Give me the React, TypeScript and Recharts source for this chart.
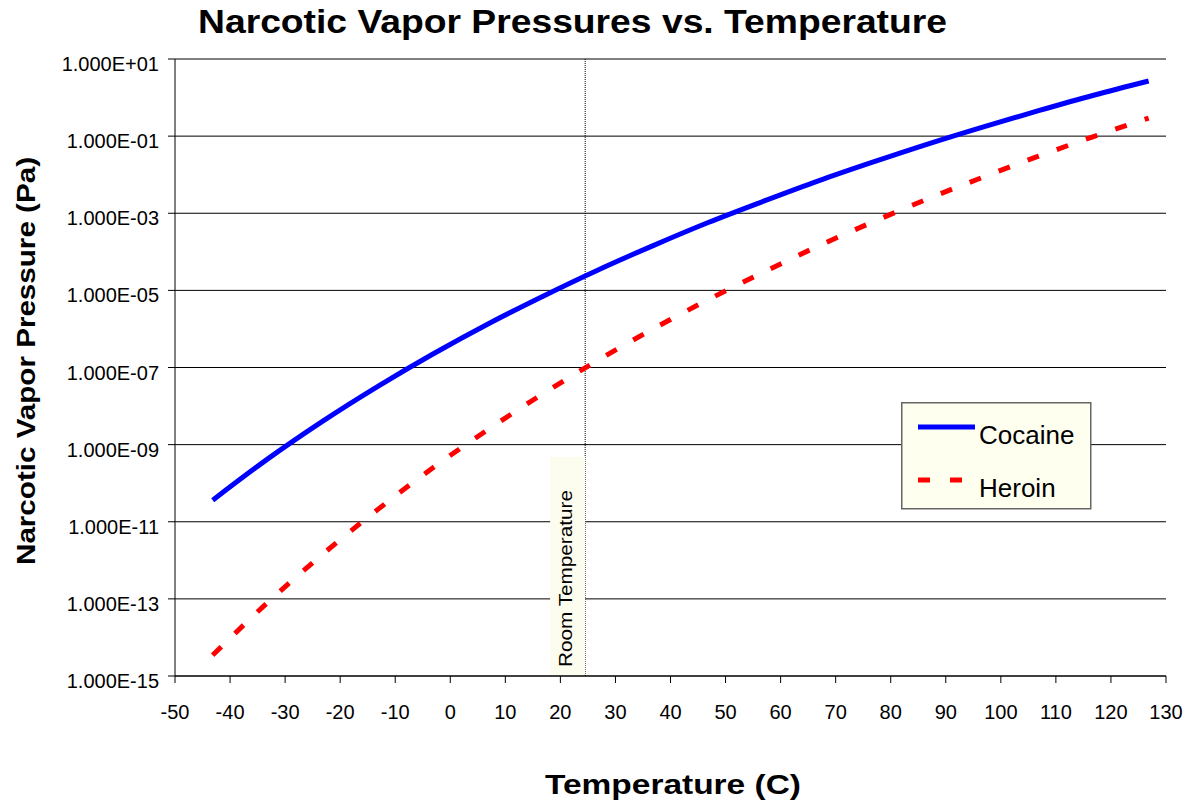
import React from 'react';
import {
  LineChart,
  Line,
  XAxis,
  YAxis,
  CartesianGrid,
  ReferenceLine,
  Legend,
} from 'recharts';

// Temperature in Celsius (230 K .. 400 K in 10 K steps)
const temperatures = [
  -43.15, -33.15, -23.15, -13.15, -3.15, 6.85, 16.85, 26.85, 36.85, 46.85,
  56.85, 66.85, 76.85, 86.85, 96.85, 106.85, 116.85, 126.85,
];
// Vapor pressures in Pa
const cocaine = [
  3.63e-11, 4.27e-10, 4.07e-9, 3.24e-8, 2.24e-7, 1.35e-6, 7.08e-6, 3.39e-5,
  1.45e-4, 5.75e-4, 2.04e-3, 6.92e-3, 2.14e-2, 6.31e-2, 0.174, 0.457, 1.15, 2.69,
];
const heroin = [
  3.47e-15, 8.13e-14, 1.45e-12, 2.09e-11, 2.51e-10, 2.45e-9, 2.09e-8, 1.55e-7,
  1.0e-6, 5.75e-6, 2.95e-5, 1.41e-4, 6.03e-4, 2.4e-3, 8.71e-3, 3.02e-2, 9.77e-2,
  0.295,
];
const xTicks = [-50, -40, -30, -20, -10, 0, 10, 20, 30, 40, 50, 60, 70, 80, 90, 100, 110, 120, 130];
const yTicks = [1e1, 1e-1, 1e-3, 1e-5, 1e-7, 1e-9, 1e-11, 1e-13, 1e-15];
const roomTemperature = 24.5;

const data = temperatures.map((t, i) => ({ t, cocaine: cocaine[i], heroin: heroin[i] }));

const FONT = '"Liberation Sans", Arial, sans-serif';

const fmtE = (v: number) => {
  const e = Math.round(Math.log10(v));
  const sign = e >= 0 ? '+' : '-';
  return `1.000E${sign}${String(Math.abs(e)).padStart(2, '0')}`;
};

const YTick = (props: any) => {
  const { x, y, payload } = props;
  return (
    <text x={x} y={y + 12} textAnchor="end" fontFamily={FONT} fontSize={20} fill="#000">
      {fmtE(payload.value)}
    </text>
  );
};

const XTick = (props: any) => {
  const { x, y, payload } = props;
  return (
    <text x={x} y={y + 13} textAnchor="middle" fontFamily={FONT} fontSize={20} fill="#000">
      {payload.value}
    </text>
  );
};

const RoomLabel = (props: any) => {
  const vb = props.viewBox || {};
  const x = vb.x;
  return (
    <g>
      <rect x={x - 35} y={457} width={35} height={218} fill="#FDFDEF" />
      <text
        transform={`translate(${x - 13},${667}) rotate(-90)`}
        fontFamily={FONT}
        fontSize={19}
        fill="#000"
        textLength={177}
        lengthAdjust="spacingAndGlyphs"
      >
        Room Temperature
      </text>
    </g>
  );
};

const LegendBox = (props: any) => {
  const payload = props.payload || [];
  return (
    <svg width={192} height={110} style={{ display: 'block' }}>
      <rect x={0.75} y={0.75} width={189} height={106} fill="#FFFFF0" stroke="#666" strokeWidth={1.5} />
      {payload.map((p: any, i: number) => {
        const y = i === 0 ? 25 : 78;
        const dashed = p.payload && p.payload.strokeDasharray;
        return (
          <g key={i}>
            <line
              x1={17}
              x2={74}
              y1={y}
              y2={y}
              stroke={p.color}
              strokeWidth={5}
              strokeDasharray={dashed ? '12 20' : undefined}
            />
            <text x={78} y={y + 17} fontFamily={FONT} fontSize={26} fill="#000">
              {p.value}
            </text>
          </g>
        );
      })}
    </svg>
  );
};

export default function App() {
  return (
    <div style={{ position: 'absolute', left: 0, top: 0, width: 1190, height: 807, background: '#fff' }}>
      <svg
        width={1190}
        height={807}
        style={{ position: 'absolute', left: 0, top: 0, pointerEvents: 'none' }}
      >
        <text
          x={198}
          y={33}
          fontFamily={FONT}
          fontWeight="bold"
          fontSize={33}
          fill="#000"
          textLength={749}
          lengthAdjust="spacingAndGlyphs"
        >
          Narcotic Vapor Pressures vs. Temperature
        </text>
        <text
          x={545}
          y={794}
          fontFamily={FONT}
          fontWeight="bold"
          fontSize={27}
          fill="#000"
          textLength={256}
          lengthAdjust="spacingAndGlyphs"
        >
          Temperature (C)
        </text>
        <text
          transform="translate(35,565) rotate(-90)"
          fontFamily={FONT}
          fontWeight="bold"
          fontSize={25}
          fill="#000"
          textLength={408}
          lengthAdjust="spacingAndGlyphs"
        >
          Narcotic Vapor Pressure (Pa)
        </text>
      </svg>
      <div style={{ position: 'absolute', left: 0, top: 0 }}>
        <LineChart
          width={1190}
          height={807}
          data={data}
          margin={{ top: 59, right: 24, bottom: 0, left: 0 }}
        >
          <CartesianGrid vertical={false} stroke="#000" strokeWidth={1} />
          <XAxis
            dataKey="t"
            type="number"
            domain={[-50, 130]}
            ticks={xTicks}
            interval={0}
            height={131}
            stroke="#000"
            tickSize={7}
            tickMargin={23}
            tick={<XTick />}
            allowDataOverflow
          />
          <XAxis
            xAxisId="top"
            orientation="top"
            type="number"
            domain={[-50, 130]}
            height={0}
            tick={false}
            tickLine={false}
            stroke="#999"
          />
          <YAxis
            scale="log"
            type="number"
            domain={[1e-15, 1e1]}
            ticks={yTicks}
            interval={0}
            width={175}
            stroke="#000"
            tickSize={7}
            tickMargin={9}
            tick={<YTick />}
            allowDataOverflow
          />
          <YAxis
            yAxisId="right"
            orientation="right"
            width={0}
            tick={false}
            tickLine={false}
            stroke="#999"
          />
          <ReferenceLine
            x={roomTemperature}
            stroke="#000"
            strokeWidth={1}
            strokeDasharray="1 1"
            label={<RoomLabel />}
          />
          <Line
            type="monotone"
            dataKey="cocaine"
            name="Cocaine"
            stroke="#0000FF"
            strokeWidth={5}
            dot={false}
            isAnimationActive={false}
          />
          <Line
            type="monotone"
            dataKey="heroin"
            name="Heroin"
            stroke="#FF0000"
            strokeWidth={5}
            strokeDasharray="12 19"
            dot={false}
            isAnimationActive={false}
          />
          <Legend
            layout="horizontal"
            verticalAlign="middle"
            align="center"
            content={<LegendBox />}
            wrapperStyle={{ position: 'absolute', left: 901, top: 402, width: 192, height: 110 }}
          />
        </LineChart>
      </div>
    </div>
  );
}
